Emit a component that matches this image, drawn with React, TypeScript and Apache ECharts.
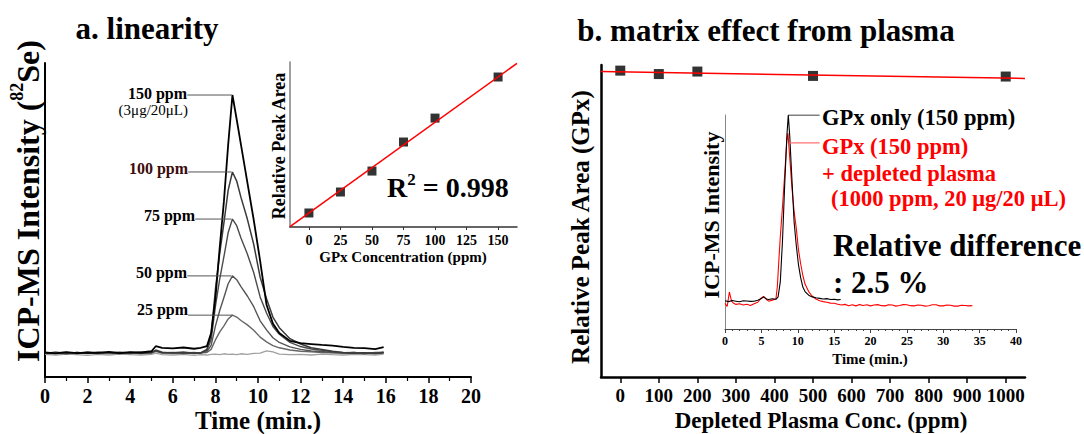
import React, { useEffect, useRef } from "react";
import * as echarts from "echarts";

const FONT = '"Liberation Serif", "Times New Roman", serif';

// Panel a: chromatograms (time in min, relative intensity)
const timeA = [0, 0.5, 1, 1.5, 2, 2.5, 3, 3.5, 4, 4.5, 5, 5.2, 5.5, 6, 6.5, 7, 7.3, 7.6, 7.8, 8.0, 8.2, 8.4, 8.6, 8.8, 9.0, 9.2, 9.5, 9.8, 10.1, 10.4, 10.7, 11.0, 11.5, 12, 12.5, 13, 13.5, 14, 14.5, 15, 15.5, 15.9];
const ppm150 = [7.8, 7.5, 7.9, 7.6, 7.8, 7.7, 8.0, 7.6, 7.9, 7.8, 8.2, 9.8, 9.3, 9.1, 9.4, 9.0, 9.3, 9.8, 14, 25, 41, 56, 74, 89.8, 82, 74, 62, 50, 37, 23, 17, 14, 11.5, 10.8, 10.5, 10.2, 10.0, 9.6, 9.3, 9.2, 8.9, 9.5];
const ppm100 = [7.6, 7.9, 7.5, 7.8, 7.6, 7.9, 7.7, 7.5, 7.8, 7.6, 7.9, 8.4, 7.8, 7.7, 7.9, 7.6, 7.7, 8.8, 13.4, 27.8, 39.3, 49.1, 59.5, 65.3, 62.4, 57.2, 50.3, 42.2, 31.8, 24.9, 19.1, 15.7, 12.2, 10.5, 9.3, 8.8, 8.2, 7.8, 7.6, 7.7, 7.5, 7.9];
const ppm75 = [7.5, 7.7, 7.8, 7.5, 7.9, 7.6, 7.7, 7.8, 7.5, 7.7, 7.8, 8.6, 7.9, 7.6, 7.8, 7.7, 7.6, 8.5, 11.9, 22.5, 31.1, 38.3, 46.0, 50.3, 48.2, 44.3, 39.2, 33.2, 25.5, 20.4, 16.1, 13.6, 11.0, 9.7, 8.9, 8.5, 8.0, 7.7, 7.8, 7.6, 7.7, 7.6];
const ppm50 = [7.7, 7.6, 7.4, 7.8, 7.6, 7.5, 7.8, 7.7, 7.6, 7.9, 7.6, 8.3, 7.7, 7.8, 7.5, 7.8, 7.6, 8.1, 10.1, 16.2, 21.1, 25.3, 29.7, 32.2, 31.0, 28.8, 25.8, 22.4, 17.9, 15.0, 12.5, 11.0, 9.6, 8.8, 8.3, 8.1, 7.8, 7.6, 7.7, 7.5, 7.8, 7.7];
const ppm25 = [7.6, 7.8, 7.6, 7.7, 7.5, 7.8, 7.6, 7.9, 7.7, 7.5, 7.7, 8.2, 7.6, 7.7, 7.8, 7.5, 7.7, 7.8, 8.8, 11.8, 14.3, 16.3, 18.5, 19.7, 19.1, 18.0, 16.6, 14.9, 12.7, 11.2, 10.0, 9.3, 8.6, 8.2, 8.0, 7.8, 7.7, 7.6, 7.8, 7.5, 7.7, 7.9];
const ppm0 = [7.2, 7.0, 7.3, 7.1, 6.9, 7.2, 7.0, 7.3, 7.1, 7.0, 7.2, 7.6, 7.1, 7.0, 7.2, 6.9, 7.1, 7.0, 7.2, 7.3, 7.1, 7.4, 7.2, 7.3, 7.1, 7.4, 7.2, 7.5, 7.6, 8.3, 8.0, 7.3, 7.1, 7.2, 7.0, 7.3, 7.1, 7.0, 7.2, 7.1, 7.0, 7.3];

// Panel a inset: linearity
const concX = [0, 25, 50, 75, 100, 150];
const areaY = [8.5, 21.2, 33.9, 51.5, 66, 90.9];
const fitAX = [-15, 165];
const fitAY = [0.2, 99.2];
const concTicks = [0, 25, 50, 75, 100, 125, 150];

// Panel b: matrix effect
const plasmaX = [0, 100, 200, 500, 1000];
const plasmaY = [98.2, 97.1, 97.9, 96.5, 96.3];
const fitBX = [-50, 1050];
const fitBY = [97.9, 95.7];
const plasmaTicks = [0, 100, 200, 300, 400, 500, 600, 700, 800, 900, 1000];

// Panel b inset chromatograms
const timeOnly = [0, 0.5, 1, 1.5, 2, 2.5, 3, 3.5, 4, 4.5, 5, 5.3, 5.7, 6, 6.5, 7, 7.3, 7.6, 7.9, 8.2, 8.5, 8.7, 8.9, 9.2, 9.5, 9.8, 10.1, 10.4, 10.7, 11, 11.5, 12, 12.5, 13, 13.5, 14, 14.5, 15, 15.5, 15.9];
const gpxOnly = [13.2, 12.8, 13.3, 13.0, 12.7, 13.2, 13.1, 12.9, 13.0, 13.4, 14.2, 15.0, 14.0, 13.8, 14.1, 13.9, 15, 22, 41, 67, 90, 100, 90, 70, 50, 39, 30, 24, 19.6, 17.5, 15.8, 15.0, 14.6, 14.3, 14.0, 14.2, 13.8, 13.9, 13.6, 13.8];
const timePlasma = [0, 0.3, 0.6, 0.9, 1.2, 1.5, 2, 2.5, 3, 3.5, 4, 4.5, 5, 5.3, 5.7, 6, 6.5, 7, 7.2, 7.4, 7.6, 7.9, 8.2, 8.5, 8.65, 8.9, 9.2, 9.5, 9.8, 10.1, 10.4, 10.7, 11, 11.5, 12, 12.5, 13, 13.5, 14, 14.5, 15, 15.5, 16, 16.5, 17, 17.5, 18, 18.5, 19, 19.5, 20, 20.5, 21, 21.5, 22, 22.5, 23, 23.5, 24, 24.5, 25, 25.5, 26, 26.5, 27, 27.5, 28, 28.5, 29, 29.5, 30, 30.5, 31, 31.5, 32, 32.5, 33, 33.5, 34];
const gpxPlasma = [12.0, 10.5, 17.3, 13.0, 12.0, 11.5, 11.8, 11.2, 11.6, 11.0, 11.8, 12.5, 14.5, 15.2, 13.8, 13.0, 13.5, 14, 20, 32, 43, 57, 72, 88, 91.6, 80, 66, 55, 47, 37, 30.5, 25, 21, 17.5, 15.3, 14.0, 13.2, 12.8, 12.5, 12.1, 12.0, 11.6, 11.2, 11.5, 10.9, 11.3, 10.8, 11.4, 11.0, 11.3, 10.8, 11.2, 11.4, 10.9, 10.8, 11.3, 11.2, 10.7, 11.0, 11.4, 11.3, 10.9, 10.8, 11.2, 11.1, 10.7, 10.9, 11.3, 11.3, 10.8, 10.8, 11.2, 11.1, 10.7, 10.7, 11.1, 11.0, 10.8, 10.9];

// leader lines (data coords): [xStart, xEnd, y]
const leadersA = [
  [6.68, 8.78, 89.8],
  [6.72, 8.75, 65.3],
  [7.05, 8.75, 50.3],
  [6.68, 8.75, 32.2],
  [6.72, 8.8, 19.7],
];
const leadersB = [
  [8.7, 13.0, 100, "#000000"],
  [8.9, 13.0, 87, "#ff7070"],
];

const zip = (xs: number[], ys: number[]) => xs.map((x, i) => [x, ys[i]]);

const txt = (x: number, y: number, text: string, size: number, opts: any = {}) => ({
  type: "text",
  x,
  y,
  rotation: opts.rotation || 0,
  style: {
    text,
    fill: opts.fill || "#000",
    fontSize: size,
    fontWeight: opts.weight || "bold",
    fontFamily: FONT,
    align: opts.align || "left",
    verticalAlign: "middle",
    textAlign: opts.align || "left",
    textVerticalAlign: "middle",
    rich: opts.rich,
  },
});

export default function App() {
  const ref = useRef<HTMLDivElement>(null);
  useEffect(() => {
    if (!ref.current) return;
    const chart = echarts.init(ref.current, null, { renderer: "svg" });
    const lbl = (size: number, margin: number) => ({
      fontFamily: FONT,
      fontWeight: "bold",
      fontSize: size,
      color: "#000",
      margin,
      showMinLabel: true,
      showMaxLabel: true,
      formatter: (v: number) => String(v),
    });
    const trace = (data: number[], color: string, width: number) => ({
      type: "line",
      xAxisIndex: 0,
      yAxisIndex: 0,
      showSymbol: false,
      symbol: "none",
      lineStyle: { color, width },
      data: zip(timeA, data),
      silent: true,
    });
    const series: any[] = [
      trace(ppm0, "#a0a0a0", 1.3),
      trace(ppm25, "#666666", 1.4),
      trace(ppm50, "#555555", 1.4),
      trace(ppm75, "#4a4a4a", 1.4),
      trace(ppm100, "#3a3a3a", 1.5),
      trace(ppm150, "#000000", 1.8),
      ...leadersA.map((l) => ({
        type: "line",
        xAxisIndex: 0,
        yAxisIndex: 0,
        symbol: "none",
        lineStyle: { color: "#555", width: 1 },
        data: [[l[0], l[2]], [l[1], l[2]]],
      })),
      {
        type: "line",
        xAxisIndex: 1,
        yAxisIndex: 1,
        symbol: "none",
        lineStyle: { color: "#ff0000", width: 1.5 },
        data: zip(fitAX, fitAY),
      },
      {
        type: "scatter",
        xAxisIndex: 1,
        yAxisIndex: 1,
        symbol: "rect",
        symbolSize: 9,
        itemStyle: { color: "#000" },
        data: zip(concX, areaY),
      },
      {
        type: "line",
        xAxisIndex: 2,
        yAxisIndex: 2,
        symbol: "none",
        lineStyle: { color: "#ff0000", width: 1.5 },
        data: zip(fitBX, fitBY),
      },
      {
        type: "scatter",
        xAxisIndex: 2,
        yAxisIndex: 2,
        symbol: "rect",
        symbolSize: 10,
        itemStyle: { color: "#000" },
        data: zip(plasmaX, plasmaY),
      },
      {
        type: "line",
        xAxisIndex: 3,
        yAxisIndex: 3,
        showSymbol: false,
        symbol: "none",
        lineStyle: { color: "#ff0000", width: 1.1 },
        data: zip(timePlasma, gpxPlasma),
      },
      {
        type: "line",
        xAxisIndex: 3,
        yAxisIndex: 3,
        showSymbol: false,
        symbol: "none",
        lineStyle: { color: "#000", width: 1.1 },
        data: zip(timeOnly, gpxOnly),
      },
      ...leadersB.map((l) => ({
        type: "line",
        xAxisIndex: 3,
        yAxisIndex: 3,
        symbol: "none",
        lineStyle: { color: l[3] as string, width: 1.2 },
        data: [[l[0], l[2]], [l[1], l[2]]],
      })),
    ];

    const noY = (gi: number, color: string, width: number) => ({
      gridIndex: gi,
      type: "value",
      min: 0,
      max: 100,
      axisLine: { show: true, onZero: false, lineStyle: { color, width } },
      axisTick: { show: false },
      axisLabel: { show: false },
      splitLine: { show: false },
    });

    const option: any = {
      animation: false,
      backgroundColor: "#fff",
      grid: [
        { left: 45, top: 63, width: 426, height: 314 },
        { left: 290, top: 62, width: 227, height: 165 },
        { left: 601, top: 65, width: 424, height: 312 },
        { left: 725, top: 115, width: 291, height: 214 },
      ],
      xAxis: [
        {
          gridIndex: 0,
          type: "value",
          min: 0,
          max: 20,
          interval: 2,
          axisLine: { onZero: false, lineStyle: { color: "#000", width: 2 } },
          axisTick: { length: 6, lineStyle: { color: "#000", width: 1.5 } },
          minorTick: { show: true, splitNumber: 2, length: 4, lineStyle: { color: "#000", width: 1.2 } },
          axisLabel: lbl(20, 9),
          splitLine: { show: false },
        },
        {
          gridIndex: 1,
          type: "value",
          min: -15,
          max: 165,
          axisLine: { onZero: false, lineStyle: { color: "#333", width: 1.5 } },
          axisTick: { length: 3, customValues: concTicks, lineStyle: { color: "#333" } },
          axisLabel: { ...lbl(14, 6), customValues: concTicks },
          splitLine: { show: false },
        },
        {
          gridIndex: 2,
          type: "value",
          min: -50,
          max: 1050,
          axisLine: { onZero: false, lineStyle: { color: "#000", width: 2.5 } },
          axisTick: { length: 6, customValues: plasmaTicks, lineStyle: { color: "#000", width: 1.5 } },
          axisLabel: { ...lbl(19, 9), customValues: plasmaTicks },
          splitLine: { show: false },
        },
        {
          gridIndex: 3,
          type: "value",
          min: 0,
          max: 40,
          interval: 5,
          axisLine: { onZero: false, lineStyle: { color: "#444", width: 1 } },
          axisTick: { length: 4, lineStyle: { color: "#444" } },
          minorTick: { show: true, splitNumber: 5, length: 2, lineStyle: { color: "#444" } },
          axisLabel: lbl(12, 6),
          splitLine: { show: false },
        },
      ],
      yAxis: [noY(0, "#000", 2), noY(1, "#808080", 1.5), noY(2, "#000", 2.5), noY(3, "#888", 1)],
      series,
      graphic: [
        txt(147, 28, "a. linearity", 31, { align: "center" }),
        txt(766, 30, "b. matrix effect from plasma", 31, { align: "center" }),
        txt(28, 201, "{m|ICP-MS Intensity (}{s|82}{m|Se)}", 32, {
          align: "center",
          rotation: Math.PI / 2,
          rich: {
            m: { fontSize: 32, fontWeight: "bold", fontFamily: FONT, fill: "#000", lineHeight: 40 },
            s: { fontSize: 18, fontWeight: "bold", fontFamily: FONT, fill: "#000", verticalAlign: "top" },
          },
        }),
        txt(258, 420, "Time (min.)", 25, { align: "center" }),
        txt(187, 93, "150 ppm", 16, { align: "right" }),
        txt(188, 110, "(3μg/20μL)", 15, { align: "right", weight: "normal" }),
        txt(188, 168, "100 ppm", 16, { align: "right", fill: "#3d0c0c" }),
        txt(195, 215, "75 ppm", 16, { align: "right" }),
        txt(187, 272, "50 ppm", 16, { align: "right" }),
        txt(188, 309, "25 ppm", 16, { align: "right" }),
        txt(279, 146, "Relative Peak Area", 18, { align: "center", rotation: Math.PI / 2 }),
        txt(403, 257, "GPx Concentration (ppm)", 15, { align: "center" }),
        txt(387, 187, "{m|R}{s|2}{m| = 0.998}", 28, {
          rich: {
            m: { fontSize: 28, fontWeight: "bold", fontFamily: FONT, fill: "#000", lineHeight: 32 },
            s: { fontSize: 17, fontWeight: "bold", fontFamily: FONT, fill: "#000", verticalAlign: "top" },
          },
        }),
        txt(580, 227, "Relative Peak Area (GPx)", 25, { align: "center", rotation: Math.PI / 2 }),
        txt(821, 420, "Depleted Plasma Conc. (ppm)", 23, { align: "center" }),
        txt(711, 215, "ICP-MS Intensity", 22, { align: "center", rotation: Math.PI / 2 }),
        txt(870, 359, "Time (min.)", 15, { align: "center" }),
        txt(822, 117, "GPx only (150 ppm)", 22.5),
        txt(822, 146, "GPx (150 ppm)", 22.5, { fill: "#ff0000" }),
        txt(822, 173, "+ depleted plasma", 22.5, { fill: "#ff0000" }),
        txt(831, 198, "(1000 ppm, 20 μg/20 μL)", 22.5, { fill: "#ff0000" }),
        txt(833, 245, "Relative difference", 31),
        txt(833, 282, ": 2.5 %", 31),
      ],
    };
    chart.setOption(option);
    return () => chart.dispose();
  }, []);
  return (
    <div
      ref={ref}
      style={{ position: "absolute", left: 0, top: 0, width: 1084, height: 434, background: "#fff" }}
    />
  );
}
